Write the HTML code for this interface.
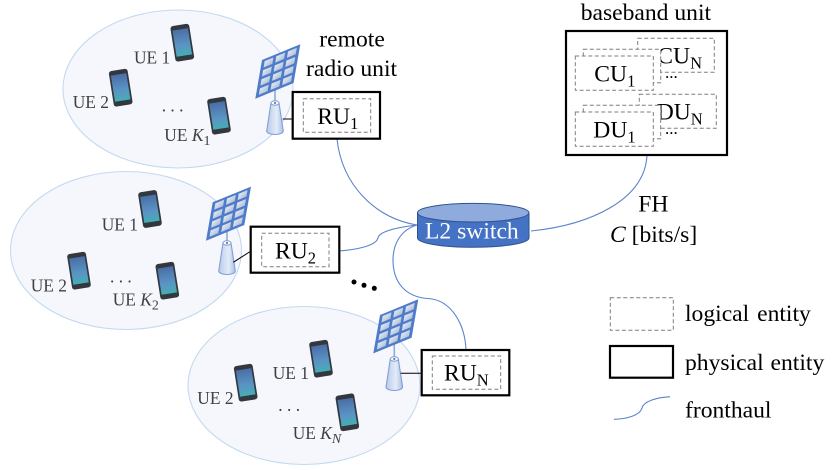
<!DOCTYPE html>
<html><head><meta charset="utf-8"><style>
html,body{margin:0;padding:0;background:#fff}
svg{display:block}
text{font-family:"Liberation Serif",serif;font-size:23.6px;fill:#000}
.ue{font-size:17.4px;fill:#404040}
.s{font-size:16.5px}
.us{font-size:14px;font-style:italic}
.i{font-style:italic}
.link{fill:none;stroke:#5b83cc;stroke-width:1.1}
.el{fill:#f5f7fc;stroke:#c3daf0;stroke-width:1.1}
.dash{fill:#fff;stroke:#7f7f7f;stroke-width:1;stroke-dasharray:4 2.5}
.solid{fill:#fff;stroke:#000;stroke-width:2.2}
</style></head><body>
<svg width="832" height="470" viewBox="0 0 832 470" xmlns="http://www.w3.org/2000/svg">
<defs>
<linearGradient id="scr" x1="0" y1="0" x2="0" y2="1">
<stop offset="0" stop-color="#4a6ea6"/><stop offset=".6" stop-color="#5a94c4"/><stop offset="1" stop-color="#45aeb4"/>
</linearGradient>
<linearGradient id="tw" x1="0" y1="0" x2="1" y2="0">
<stop offset="0" stop-color="#b9cbe9"/><stop offset=".6" stop-color="#e3ebf8"/><stop offset="1" stop-color="#a9bfe4"/>
</linearGradient>
<linearGradient id="cg" x1="0" y1="0" x2="1" y2="1">
<stop offset="0" stop-color="#e4e9f2"/><stop offset="1" stop-color="#aebfd8"/>
</linearGradient>
<g id="phone">
<rect x="-9.5" y="-18" width="19" height="36" rx="2.8" fill="#33383f"/>
<rect x="-7.8" y="-13.5" width="15.6" height="26.5" fill="url(#scr)"/>
</g>
<g id="panel">
<polygon points="0,0 1,0 1,1 0,1" fill="#4f7cca"/>
<g fill="url(#cg)">
<rect x=".08" y=".06" width=".23" height=".165"/><rect x=".385" y=".06" width=".23" height=".165"/><rect x=".69" y=".06" width=".23" height=".165"/>
<rect x=".08" y=".295" width=".23" height=".165"/><rect x=".385" y=".295" width=".23" height=".165"/><rect x=".69" y=".295" width=".23" height=".165"/>
<rect x=".08" y=".53" width=".23" height=".165"/><rect x=".385" y=".53" width=".23" height=".165"/><rect x=".69" y=".53" width=".23" height=".165"/>
<rect x=".08" y=".765" width=".23" height=".165"/><rect x=".385" y=".765" width=".23" height=".165"/><rect x=".69" y=".765" width=".23" height=".165"/>
</g>
</g>
<g id="tower">
<path d="M-4 2 L-8.3 30 A8.3 3.5 0 0 0 8.3 30 L4 2 Z" fill="url(#tw)" stroke="#7f9fd6" stroke-width="1.1"/>
<ellipse cx="0" cy="2" rx="4" ry="2.2" fill="#fff" stroke="#7f9fd6" stroke-width="1"/>
<circle cx="0" cy="2" r="1.1" fill="#6f7e98"/>
</g>
</defs>

<ellipse class="el" cx="178" cy="89" rx="115" ry="79"/>
<ellipse class="el" cx="126" cy="250.5" rx="115.5" ry="79"/>
<ellipse class="el" cx="304" cy="385.5" rx="116" ry="79"/>

<!-- phones -->
<use href="#phone" transform="translate(182.3,42.7) rotate(-9)"/>
<use href="#phone" transform="translate(120.7,87.7) rotate(-9)"/>
<use href="#phone" transform="translate(219,115.7) rotate(-9)"/>
<use href="#phone" transform="translate(150,209) rotate(-9)"/>
<use href="#phone" transform="translate(79,270.7) rotate(-9)"/>
<use href="#phone" transform="translate(167.3,280.7) rotate(-9)"/>
<use href="#phone" transform="translate(321,358.7) rotate(-9)"/>
<use href="#phone" transform="translate(245.7,382.7) rotate(-9)"/>
<use href="#phone" transform="translate(347.3,412.3) rotate(-9)"/>

<!-- UE labels -->
<text class="ue" x="134" y="63.3">UE 1</text>
<text class="ue" x="72.7" y="108">UE 2</text>
<text class="ue" x="161.7" y="111.7">. . .</text>
<text class="ue" x="164.3" y="141">UE <tspan class="i">K</tspan><tspan class="us" dy="4" style="font-style:normal">1</tspan></text>
<text class="ue" x="101.7" y="230.7">UE 1</text>
<text class="ue" x="30.7" y="291.7">UE 2</text>
<text class="ue" x="110" y="282.3">. . .</text>
<text class="ue" x="112.7" y="305.7">UE <tspan class="i">K</tspan><tspan class="us" dy="4" style="font-style:normal">2</tspan></text>
<text class="ue" x="272.7" y="379">UE 1</text>
<text class="ue" x="197.3" y="404">UE 2</text>
<text class="ue" x="278.3" y="411">. . .</text>
<text class="ue" x="292.7" y="439">UE <tspan class="i">K</tspan><tspan class="us" dy="4">N</tspan></text>

<!-- masts, panels, towers -->
<g stroke="#8faadc" stroke-width="1.6">
<line x1="275" y1="72" x2="275" y2="102"/>
<line x1="227" y1="214" x2="227" y2="241"/>
<line x1="394.3" y1="327" x2="394.3" y2="357"/>
</g>
<use href="#panel" transform="matrix(38.3,-15.7,-6.7,38.7,262,60)"/>
<use href="#panel" transform="matrix(38.3,-15.7,-6.7,38.4,212.7,202.3)"/>
<use href="#panel" transform="matrix(38.3,-15.7,-6.7,38.4,380,315)"/>
<use href="#tower" transform="translate(275,101)"/>
<use href="#tower" transform="translate(227,241)"/>
<use href="#tower" transform="translate(394.3,357)"/>

<!-- tower to RU -->
<g stroke="#000" stroke-width="1">
<line x1="282.7" y1="119" x2="293" y2="119"/>
<line x1="233.3" y1="262.3" x2="251" y2="251"/>
<line x1="400.7" y1="373.3" x2="422" y2="373.3"/>
</g>

<!-- connectors -->
<path class="link" d="M337 139 C342 185 375 218 417 225"/>
<path class="link" d="M338 251 C355 250 376 246 378 238 C379 231 400 227 417 225"/>
<path class="link" d="M417 225 C400 230 393 245 393 260 C393 282 405 297 428 298.5 C452 300 465 325 466 350"/>
<path class="link" d="M647 155 C645 200 590 225 531 231"/>

<!-- switch -->
<path d="M417.5 212.7 V238 A55.7 9.3 0 0 0 529 238 V212.7 Z" fill="#4472c4" stroke="#2f528f" stroke-width="1"/>
<ellipse cx="473.2" cy="212.7" rx="55.7" ry="9.3" fill="#8faadc" stroke="#2f528f" stroke-width="1"/>
<text x="425" y="238.3" style="fill:#fff">L2 switch</text>

<!-- dots -->
<circle cx="354" cy="282" r="2.5" fill="#000"/>
<circle cx="364" cy="285.3" r="2.5" fill="#000"/>
<circle cx="374.3" cy="288.3" r="2.5" fill="#000"/>

<!-- RU boxes -->
<rect class="solid" x="292.7" y="92" width="87.3" height="46.7"/>
<rect class="dash" x="303.3" y="98.7" width="67.4" height="33.6"/>
<text x="317.3" y="124">RU<tspan class="s" dy="5">1</tspan></text>
<rect class="solid" x="250.7" y="226.7" width="88.6" height="46"/>
<rect class="dash" x="261.7" y="233.3" width="67.3" height="33.4"/>
<text x="275" y="258.3">RU<tspan class="s" dy="5">2</tspan></text>
<rect class="solid" x="421.7" y="350" width="87.6" height="45.3"/>
<rect class="dash" x="432.3" y="356" width="68.4" height="33.3"/>
<text x="444" y="380.7">RU<tspan class="s" dy="5">N</tspan></text>

<text x="319.3" y="46.7">remote</text>
<text x="306" y="76">radio unit</text>
<text x="580.7" y="20">baseband unit</text>

<!-- baseband unit -->
<rect class="solid" x="566" y="31" width="161" height="124"/>
<rect class="dash" x="637.7" y="38.3" width="76.6" height="34"/>
<text x="657.3" y="63.3">CU<tspan class="s" dy="5">N</tspan></text>
<rect class="dash" x="583.3" y="49.3" width="77.4" height="33.4"/>
<text x="665" y="78" style="font-size:17px">...</text>
<rect class="dash" x="575.3" y="56" width="78" height="34.3"/>
<text x="594.3" y="81.7">CU<tspan class="s" dy="5">1</tspan></text>
<rect class="dash" x="639.3" y="94.3" width="77" height="34"/>
<text x="656.7" y="119.3">DU<tspan class="s" dy="5">N</tspan></text>
<rect class="dash" x="583.3" y="105.3" width="77.4" height="33.4"/>
<text x="665" y="134" style="font-size:17px">...</text>
<rect class="dash" x="575.3" y="112" width="78" height="34.3"/>
<text x="593.3" y="137.7">DU<tspan class="s" dy="5">1</tspan></text>

<text x="638.3" y="211.7">FH</text>
<text x="610" y="242"><tspan class="i">C</tspan> [bits/s]</text>

<!-- legend -->
<rect class="dash" x="610.3" y="297.7" width="63" height="32.6"/>
<rect class="solid" x="610" y="346" width="63" height="31.7"/>
<path class="link" d="M614 419.3 C628 419 640 415 642 408 C644 401 657 397.5 670 396.7"/>
<text x="685" y="321" word-spacing="2">logical entity</text>
<text x="685" y="370" word-spacing="1">physical entity</text>
<text x="685" y="417.7">fronthaul</text>
</svg>
</body></html>
